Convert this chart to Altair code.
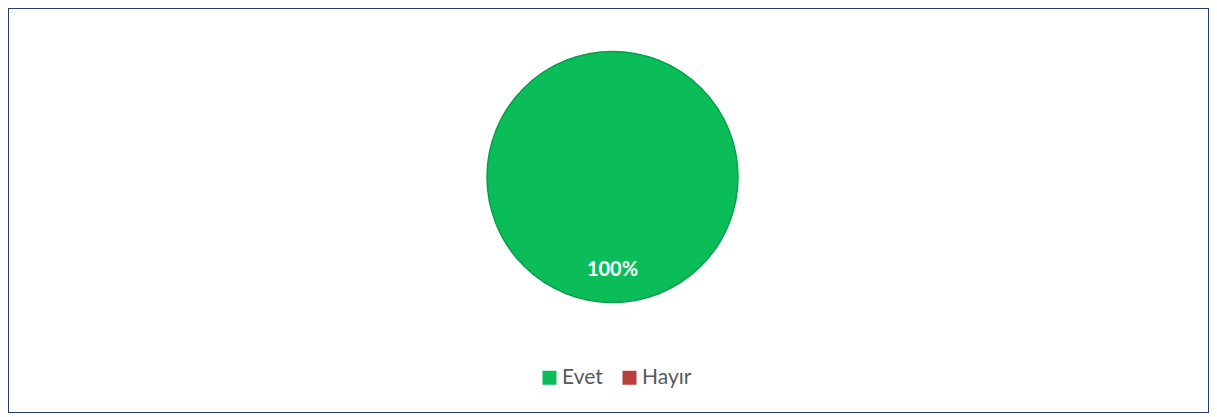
import altair as alt
import pandas as pd

categories = ["Evet", "Hayır"]
values = [100, 0]
labels = ["100%", "0%"]
colors = ["#0ABD59", "#B7403D"]

df = pd.DataFrame({"cat": categories, "val": values, "label": labels})

CX, CY = 604.5, 169
R = 125.5

color_scale = alt.Scale(domain=categories, range=colors)

pie = alt.Chart(df).mark_arc(radius=R, strokeWidth=0).encode(
    theta=alt.Theta("val:Q", stack=True),
    color=alt.Color(
        "cat:N",
        scale=color_scale,
        sort=categories,
        legend=alt.Legend(
            title=None,
            orient="none",
            legendX=531,
            legendY=359,
            direction="horizontal",
            symbolType="square",
            symbolSize=196,
            symbolStrokeWidth=0,
            labelFontSize=21,
            labelFont="Lato",
            labelColor="#595959",
            labelOffset=2,
            columnPadding=16,
        ),
    ),
    x=alt.value(CX),
    y=alt.value(CY),
    order=alt.Order("cat:N", sort="ascending"),
)

rim = alt.Chart(df).transform_filter(alt.datum.val > 0).mark_point(
    shape="circle", filled=False, size=(2 * R) ** 2, stroke="#07A04B", strokeWidth=1.5, opacity=1
).encode(
    x=alt.value(CX),
    y=alt.value(CY),
)

text = alt.Chart(df).transform_filter(alt.datum.val > 0).mark_text(
    radius=93, font="Lato", fontWeight="bold", fontSize=20, color="white"
).encode(
    theta=alt.Theta("val:Q", stack=True),
    text="label:N",
    x=alt.value(CX),
    y=alt.value(CY),
)

chart = alt.layer(pie, rim, text).properties(
    width=1201, height=405, padding=0, autosize=alt.AutoSizeParams(type="none")
).configure_view(stroke="#223C74", strokeWidth=2)

chart.save("out.html", embed_options={"renderer": "svg", "actions": False})
